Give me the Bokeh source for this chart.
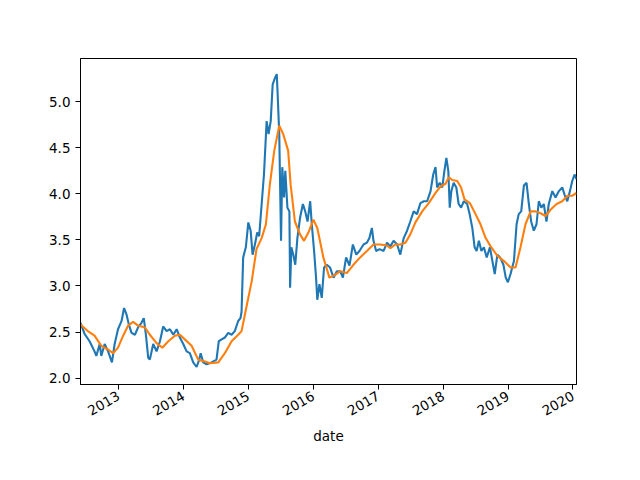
import math
import pandas as pd
from bokeh.plotting import figure
from bokeh.models import Range1d, FixedTicker, DatetimeTickFormatter, PrintfTickFormatter
from bokeh.embed import file_html
from bokeh.resources import INLINE

price_dates = [
    "2012-06-01", "2012-06-24", "2012-07-22", "2012-08-19", "2012-08-29", "2012-09-17",
    "2012-09-26", "2012-10-15", "2012-11-03", "2012-11-25", "2012-12-10", "2012-12-29",
    "2013-01-18", "2013-02-01", "2013-02-15", "2013-02-28", "2013-03-15", "2013-04-03",
    "2013-04-21", "2013-05-10", "2013-05-23", "2013-06-04", "2013-06-17", "2013-06-26",
    "2013-07-15", "2013-08-03", "2013-08-22", "2013-09-09", "2013-09-28", "2013-10-17",
    "2013-11-05", "2013-11-24", "2013-12-12", "2013-12-31", "2014-01-19", "2014-02-06",
    "2014-02-25", "2014-03-16", "2014-03-29", "2014-04-08", "2014-04-22", "2014-05-11",
    "2014-06-08", "2014-07-06", "2014-07-19", "2014-08-04", "2014-08-22", "2014-09-10",
    "2014-09-29", "2014-10-17", "2014-11-05", "2014-11-18", "2014-11-24", "2014-12-03",
    "2014-12-18", "2015-01-01", "2015-01-14", "2015-01-25", "2015-02-07", "2015-02-20",
    "2015-03-03", "2015-03-17", "2015-03-30", "2015-04-14", "2015-04-25", "2015-05-07",
    "2015-05-18", "2015-05-31", "2015-06-10", "2015-06-15", "2015-06-24", "2015-06-28",
    "2015-07-04", "2015-07-11", "2015-07-21", "2015-07-28", "2015-08-09", "2015-08-20",
    "2015-08-24", "2015-08-31", "2015-09-11", "2015-09-22", "2015-10-04", "2015-10-19",
    "2015-11-04", "2015-11-17", "2015-11-30", "2015-12-15", "2015-12-24", "2016-01-06",
    "2016-01-17", "2016-01-24", "2016-02-05", "2016-02-18", "2016-03-02", "2016-03-17",
    "2016-04-05", "2016-04-24", "2016-05-13", "2016-06-01", "2016-06-16", "2016-07-04",
    "2016-07-23", "2016-08-11", "2016-08-30", "2016-09-17", "2016-10-10", "2016-10-29",
    "2016-11-12", "2016-11-26", "2016-12-05", "2016-12-20", "2017-01-08", "2017-01-31",
    "2017-02-19", "2017-03-10", "2017-03-28", "2017-04-17", "2017-05-05", "2017-05-24",
    "2017-06-12", "2017-06-30", "2017-07-19", "2017-08-07", "2017-08-26", "2017-09-14",
    "2017-10-03", "2017-10-22", "2017-11-06", "2017-11-19", "2017-11-28", "2017-12-13",
    "2017-12-27", "2018-01-08", "2018-01-19", "2018-01-30", "2018-02-07", "2018-02-16",
    "2018-03-01", "2018-03-16", "2018-03-29", "2018-04-12", "2018-04-27", "2018-05-16",
    "2018-05-30", "2018-06-14", "2018-06-27", "2018-07-08", "2018-07-21", "2018-08-04",
    "2018-08-18", "2018-09-03", "2018-09-21", "2018-10-05", "2018-10-18", "2018-11-02",
    "2018-11-17", "2018-12-06", "2018-12-19", "2018-12-31", "2019-01-15", "2019-02-03",
    "2019-02-18", "2019-03-02", "2019-03-16", "2019-03-31", "2019-04-15", "2019-04-28",
    "2019-05-11", "2019-05-26", "2019-06-10", "2019-06-23", "2019-07-07", "2019-07-21",
    "2019-08-05", "2019-08-18", "2019-09-07", "2019-09-25", "2019-10-14", "2019-11-02",
    "2019-11-15", "2019-11-30", "2019-12-15", "2019-12-28", "2020-01-10", "2020-01-21",
]
price_values = [
    2.60, 2.48, 2.40, 2.29, 2.24, 2.37,
    2.24, 2.37, 2.29, 2.17, 2.37, 2.53,
    2.62, 2.76, 2.69, 2.58, 2.49, 2.47,
    2.55, 2.60, 2.65, 2.47, 2.22, 2.20,
    2.37, 2.29, 2.40, 2.56, 2.51, 2.53,
    2.47, 2.53, 2.44, 2.37, 2.29, 2.27,
    2.17, 2.12, 2.19, 2.27, 2.17, 2.15,
    2.17, 2.20, 2.40, 2.42, 2.44, 2.49,
    2.47, 2.51, 2.62, 2.65, 2.72, 3.31,
    3.42, 3.69, 3.60, 3.34, 3.45, 3.58,
    3.54, 3.89, 4.21, 4.79, 4.65, 4.79,
    5.19, 5.26, 5.30, 5.08, 4.65, 4.18,
    3.49, 4.29, 3.96, 4.25, 3.85, 3.81,
    2.98, 3.42, 3.34, 3.23, 3.52, 3.74,
    3.89, 3.81, 3.70, 3.92, 3.67, 3.38,
    3.09, 2.85, 3.02, 2.87, 3.20, 3.23,
    3.20, 3.09, 3.16, 3.16, 3.09, 3.31,
    3.22, 3.45, 3.34, 3.38, 3.45, 3.47,
    3.52, 3.63, 3.49, 3.38, 3.40, 3.38,
    3.47, 3.43, 3.49, 3.45, 3.34, 3.52,
    3.60, 3.70, 3.81, 3.78, 3.90, 3.92,
    3.92, 4.03, 4.21, 4.29, 4.07, 4.12,
    4.07, 4.25, 4.39, 4.25, 3.85, 4.03,
    4.12, 4.07, 3.89, 3.85, 3.92, 3.89,
    3.78, 3.63, 3.42, 3.38, 3.49, 3.38,
    3.42, 3.31, 3.42, 3.27, 3.13, 3.34,
    3.31, 3.23, 3.09, 3.04, 3.13, 3.27,
    3.67, 3.78, 3.81, 4.09, 4.12, 3.89,
    3.70, 3.60, 3.67, 3.92, 3.85, 3.89,
    3.70, 3.89, 4.03, 3.96, 4.03, 4.07,
    3.99, 3.92, 4.03, 4.14, 4.21, 4.16,
]

mean_dates = [
    "2012-06-01", "2012-07-12", "2012-08-19", "2012-09-26", "2012-11-03", "2012-12-01",
    "2012-12-29", "2013-01-27", "2013-02-24", "2013-03-24", "2013-04-21", "2013-05-29",
    "2013-06-26", "2013-08-03", "2013-09-04", "2013-10-08", "2013-11-14", "2013-12-12",
    "2014-01-09", "2014-02-16", "2014-03-25", "2014-05-02", "2014-05-30", "2014-07-16",
    "2014-08-22", "2014-09-29", "2014-11-05", "2014-11-24", "2014-12-19", "2015-01-20",
    "2015-02-16", "2015-03-17", "2015-04-10", "2015-05-02", "2015-05-27", "2015-06-24",
    "2015-07-16", "2015-08-13", "2015-08-27", "2015-09-20", "2015-10-19", "2015-11-10",
    "2015-12-05", "2016-01-02", "2016-01-24", "2016-02-27", "2016-04-01", "2016-05-03",
    "2016-06-01", "2016-07-08", "2016-08-14", "2016-09-21", "2016-10-29", "2016-12-05",
    "2017-01-12", "2017-02-19", "2017-03-10", "2017-04-07", "2017-05-05", "2017-06-03",
    "2017-06-30", "2017-07-29", "2017-09-05", "2017-10-12", "2017-11-19", "2017-12-17",
    "2018-01-14", "2018-02-02", "2018-02-21", "2018-03-21", "2018-04-12", "2018-05-01",
    "2018-05-31", "2018-07-02", "2018-07-30", "2018-08-28", "2018-09-25", "2018-11-01",
    "2018-12-09", "2019-01-15", "2019-02-12", "2019-03-12", "2019-04-09", "2019-05-08",
    "2019-06-05", "2019-07-03", "2019-07-31", "2019-08-29", "2019-10-01", "2019-11-02",
    "2019-12-01", "2019-12-29", "2020-01-21",
]
mean_values = [
    2.58, 2.51, 2.46, 2.35, 2.31, 2.27,
    2.33, 2.46, 2.57, 2.61, 2.57, 2.55,
    2.47, 2.38, 2.33, 2.40, 2.46, 2.47,
    2.42, 2.35, 2.20, 2.18, 2.16, 2.17,
    2.27, 2.40, 2.47, 2.51, 2.75, 3.05,
    3.40, 3.52, 3.67, 4.10, 4.47, 4.74,
    4.65, 4.47, 4.10, 3.70, 3.56, 3.49,
    3.58, 3.72, 3.63, 3.31, 3.09, 3.12,
    3.16, 3.14, 3.23, 3.31, 3.38, 3.45,
    3.45, 3.44, 3.41, 3.45, 3.45, 3.47,
    3.56, 3.69, 3.81, 3.90, 4.01, 4.08,
    4.11, 4.18, 4.15, 4.14, 4.07, 3.94,
    3.90, 3.78, 3.67, 3.52, 3.43, 3.33,
    3.27, 3.20, 3.20, 3.42, 3.67, 3.81,
    3.81, 3.79, 3.76, 3.83, 3.89, 3.92,
    3.98, 3.98, 4.01,
]

year_ticks = [2013, 2014, 2015, 2016, 2017, 2018, 2019, 2020]
y_ticks = [2.0, 2.5, 3.0, 3.5, 4.0, 4.5, 5.0]

px = pd.to_datetime(price_dates)
mx = pd.to_datetime(mean_dates)

p = figure(width=640, height=480, x_axis_type="datetime",
           output_backend="svg", toolbar_location=None,
           min_border_left=80, min_border_right=64,
           min_border_top=58, min_border_bottom=96)
p.x_range = Range1d(px[0], px[-1])
p.y_range = Range1d(1.93, 5.47)

p.line(px, price_values, line_color="#1f77b4", line_width=2.1)
p.line(mx, mean_values, line_color="#ff7f0e", line_width=2.1)

tick_ms = [pd.Timestamp(f"{y}-01-01").value / 1e6 for y in year_ticks]
p.xaxis.ticker = FixedTicker(ticks=tick_ms)
p.xaxis.formatter = DatetimeTickFormatter(years="%Y", months="%Y", days="%Y",
                                          hours="%Y", minutes="%Y", seconds="%Y",
                                          milliseconds="%Y", microseconds="%Y")
p.xaxis.major_label_orientation = math.radians(30)
p.xaxis.axis_label = "date"

p.yaxis.ticker = FixedTicker(ticks=y_ticks)
p.yaxis.formatter = PrintfTickFormatter(format="%.1f")

for ax in (p.xaxis, p.yaxis):
    ax.major_label_text_font = "DejaVu Sans"
    ax.major_label_text_font_size = "13.5px"
    ax.major_label_text_color = "black"
    ax.axis_label_text_font = "DejaVu Sans"
    ax.axis_label_text_font_size = "13.5px"
    ax.axis_label_text_font_style = "normal"
    ax.axis_label_text_color = "black"
    ax.axis_line_color = "black"
    ax.major_tick_line_color = "black"
    ax.major_tick_out = 5
    ax.major_tick_in = 0
    ax.minor_tick_line_color = None
    ax.major_label_standoff = 5

p.xgrid.visible = False
p.ygrid.visible = False
p.outline_line_color = "black"
p.outline_line_width = 1
p.background_fill_color = "white"
p.border_fill_color = "white"

open("out.html", "w").write(file_html(p, INLINE))
